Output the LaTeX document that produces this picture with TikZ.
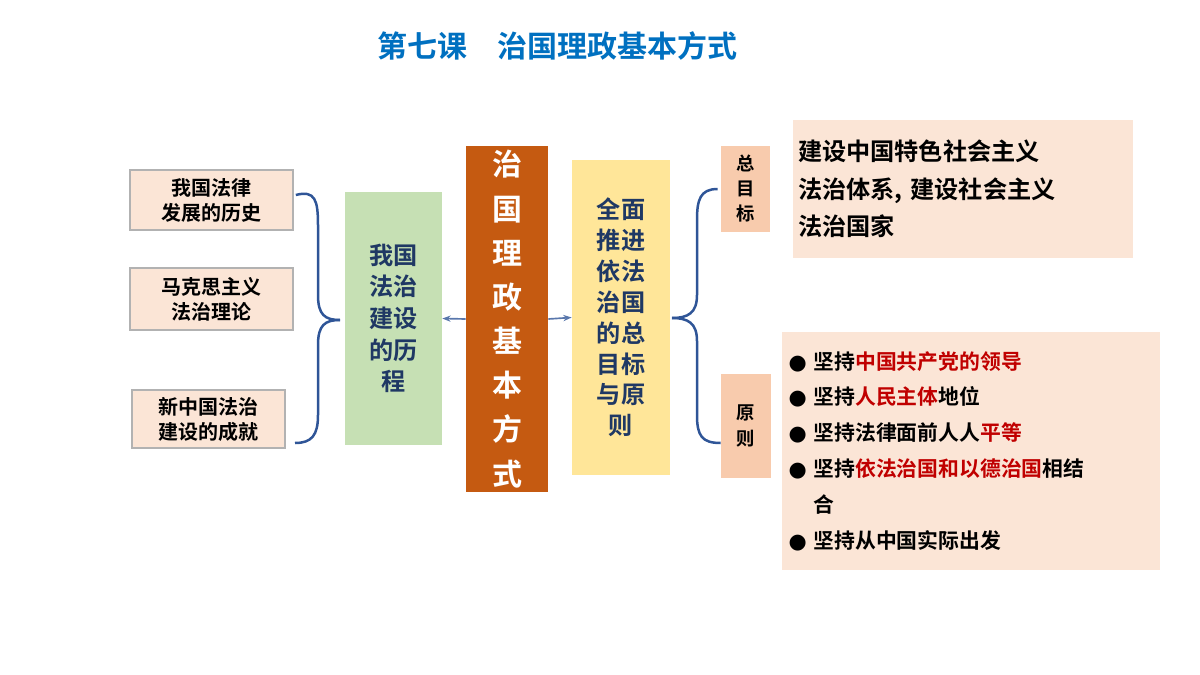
\documentclass[tikz,border=0pt]{standalone}
\usepackage{fontspec}
\setmainfont{Noto Sans CJK SC}[BoldFont={* Bold}]
\usetikzlibrary{arrows.meta}
\definecolor{ttl}{RGB}{0,112,192}
\definecolor{peach}{RGB}{251,229,214}
\definecolor{tag}{RGB}{248,203,173}
\definecolor{grn}{RGB}{198,224,180}
\definecolor{org}{RGB}{197,90,17}
\definecolor{ylw}{RGB}{255,230,153}
\definecolor{brc}{RGB}{47,85,151}
\definecolor{dk}{RGB}{31,56,100}
\definecolor{rd}{RGB}{192,0,0}
\tikzset{
 box/.style={inner sep=0pt,align=center,font=\bfseries},
 lbox/.style={box,fill=peach,draw=gray!60,line width=1pt,minimum width=163pt*0.6,text width=150pt*0.6,font=\bfseries\fontsize{12}{15}\selectfont},
 brace/.style={draw=brc,line width=1.5pt},
 arr/.style={draw=brc!80,line width=1pt,-{Stealth[length=5pt]}}
}
\begin{document}
\begin{tikzpicture}[x=0.6pt,y=-0.6pt]
\useasboundingbox (0,0) rectangle (1200,675);
\node[font=\bfseries\fontsize{18}{20}\selectfont,text=ttl] (title) at (557,46) {第七课\quad 治国理政基本方式};
\node[lbox,minimum height=60*0.6pt] (l1) at (211.5,200) {我国法律\\发展的历史};
\node[lbox,minimum height=62*0.6pt] (l2) at (211.5,299) {马克思主义\\法治理论};
\node[lbox,minimum height=58*0.6pt,minimum width=153pt*0.6] (l3) at (208.5,419) {新中国法治\\建设的成就};
\node[box,fill=grn,minimum width=97*0.6pt,minimum height=253*0.6pt,text=dk,font=\bfseries\fontsize{14.5}{19}\selectfont] (g) at (393.5,318.5) {我国\\法治\\建设\\的历\\程};
\node[box,fill=org,minimum width=82*0.6pt,minimum height=346*0.6pt,text=white,font=\bfseries\fontsize{18}{26.5}\selectfont] (o) at (507,319) {治\\国\\理\\政\\基\\本\\方\\式};
\node[box,fill=ylw,minimum width=98*0.6pt,minimum height=315*0.6pt,text=dk,font=\bfseries\fontsize{14.5}{18.5}\selectfont] (y) at (621,317.5) {全面\\推进\\依法\\治国\\的总\\目标\\与原\\则};
\node[box,fill=tag,minimum width=49*0.6pt,minimum height=86*0.6pt,font=\bfseries\fontsize{11}{15}\selectfont] (t1) at (745.5,189) {总\\目\\标};
\node[box,fill=tag,minimum width=50*0.6pt,minimum height=104*0.6pt,font=\bfseries\fontsize{11}{16}\selectfont] (t2) at (746,426) {原\\则};
\node[box,fill=peach,minimum width=340*0.6pt,minimum height=138*0.6pt,align=left,text width=330*0.6pt,font=\bfseries\fontsize{14.5}{22.5}\selectfont] (goal) at (963,189) {建设中国特色社会主义\\法治体系, 建设社会主义\\法治国家};
\node[box,fill=peach,minimum width=378*0.6pt,minimum height=238*0.6pt,align=left,text width=365*0.6pt,font=\bfseries\fontsize{12.5}{21.5}\selectfont] (pr) at (971,451) {%
\makebox[15pt][l]{\fontspec{DejaVu Sans}●}坚持\textcolor{rd}{中国共产党的领导}\\
\makebox[15pt][l]{\fontspec{DejaVu Sans}●}坚持\textcolor{rd}{人民主体}地位\\
\makebox[15pt][l]{\fontspec{DejaVu Sans}●}坚持法律面前人人\textcolor{rd}{平等}\\
\makebox[15pt][l]{\fontspec{DejaVu Sans}●}坚持\textcolor{rd}{依法治国和以德治国}相结\\
\hspace*{15pt}合\\
\makebox[15pt][l]{\fontspec{DejaVu Sans}●}坚持从中国实际出发};
% braces
\coordinate (lb) at (340,320);
\coordinate (rb) at (672,318);
\draw[brace] (l1.east) ++(2,-5) .. controls (315,190) and (318,200) .. (318,225) -- (318,295) .. controls (318,315) and (325,320) .. (lb);
\draw[brace] (lb) .. controls (325,320) and (318,325) .. (318,345) -- (318,415) .. controls (318,435) and (312,443) .. (295,443);
\draw[brace] (t1.west) ++(-3,0) .. controls (700,189) and (697,200) .. (697,220) -- (697,295) .. controls (697,313) and (688,318) .. (rb);
\draw[brace] (rb) .. controls (688,318) and (697,323) .. (697,341) -- (697,415) .. controls (697,436) and (702,443) .. (t2.west |- 0,443);
\draw[arr] (o.west) -- (g.east);
\draw[arr] (o.east) -- (y.west);
\end{tikzpicture}
\end{document}
